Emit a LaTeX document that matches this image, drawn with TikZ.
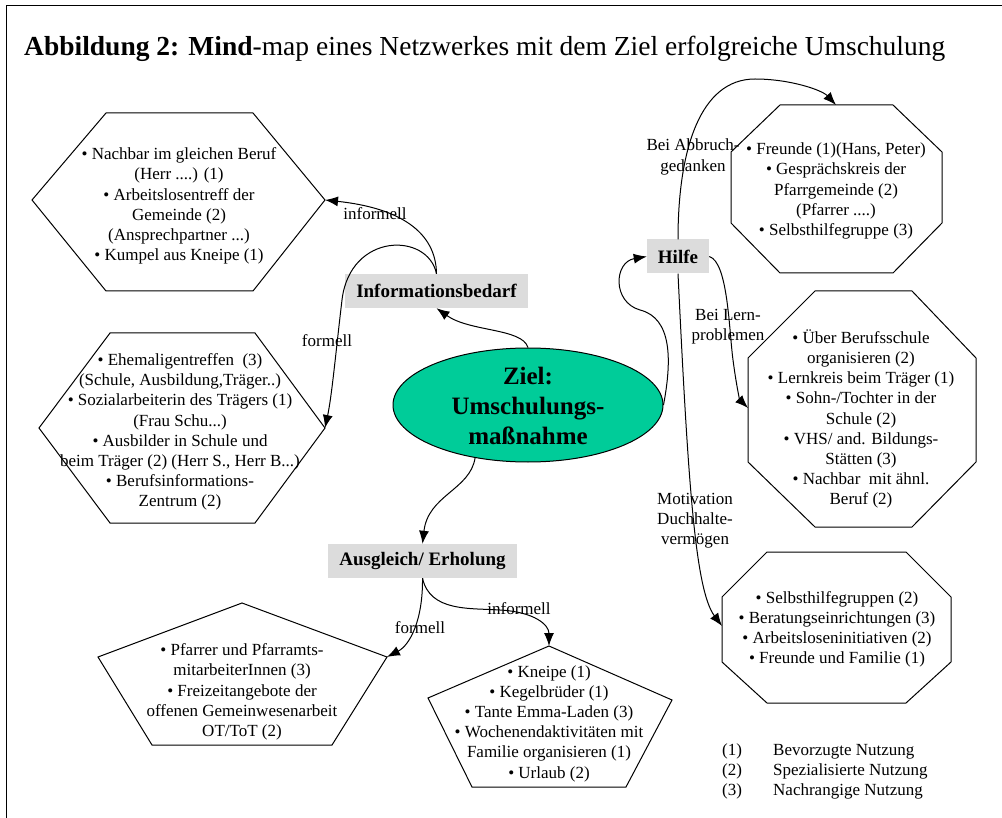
\documentclass[tikz,border=0pt]{standalone}
\usepackage{fontspec}
\setmainfont{Liberation Serif}
\usetikzlibrary{arrows.meta,shapes.geometric}
\definecolor{boxgray}{RGB}{220,220,220}
\definecolor{zielgreen}{RGB}{0,204,153}
\tikzset{
 body/.style={align=center,inner sep=0pt,font=\fontsize{17}{20.2}\selectfont},
 poly/.style={draw=black,line width=1pt,line join=miter},
 topic/.style={fill=boxgray,inner xsep=11pt,inner ysep=0pt,minimum height=34pt,font=\bfseries\fontsize{19}{22}\selectfont},
 conn/.style={line width=1pt,-{Latex[length=13pt,width=10pt]}},
 lbl/.style={inner sep=0pt,font=\fontsize{17}{20.2}\selectfont,align=center},
}
\begin{document}
\begin{tikzpicture}[x=1pt,y=-1pt]
\useasboundingbox (0,0) rectangle (1002,818);
\draw[line width=1pt] (6,818) -- (6,6) -- (1002,6);
\node[anchor=base west,inner sep=0pt,font=\fontsize{27.5}{30}\selectfont] (title) at (24,56) {\textbf{Abbildung 2: Mind}-map eines Netzwerkes mit dem Ziel erfolgreiche Umschulung};

% shapes
\draw[poly] (32,200) -- (106,113) -- (253,113) -- (325,200) -- (253,291) -- (106,291) -- cycle;
\draw[poly] (39,428) -- (110,333) -- (255,333) -- (325,428) -- (255,523) -- (110,523) -- cycle;
\draw[poly] (780,105) -- (893,105) -- (942,152) -- (942,223) -- (893,273) -- (780,273) -- (731,223) -- (731,152) -- cycle;
\draw[poly] (815,291) -- (912,291) -- (976,358) -- (976,462) -- (912,527) -- (815,527) -- (748,462) -- (748,358) -- cycle;
\draw[poly] (767,552) -- (906,552) -- (951,597) -- (951,662) -- (906,703) -- (767,703) -- (722,662) -- (722,597) -- cycle;
\draw[poly] (242,603) -- (387,657) -- (332,745) -- (152,745) -- (98,657) -- cycle;
\draw[poly] (549,646) -- (672,700) -- (626,787) -- (472,787) -- (428,698) -- cycle;

\coordinate (h1r) at (325,200);
\coordinate (h2r) at (325,428);
\coordinate (o1t) at (836,105);
\coordinate (o2l) at (748,408);
\coordinate (o3l) at (722,626);
\coordinate (p1r) at (387,657);
\coordinate (p2t) at (549,646);

% texts in shapes
\node[body] (h1text) at (179,206) {• Nachbar im gleichen Beruf\\(Herr ....) (1)\\• Arbeitslosentreff der\\Gemeinde (2)\\(Ansprechpartner ...)\\• Kumpel aus Kneipe (1)};
\node[body] (h2text) at (180,432) {• Ehemaligentreffen\ \ (3)\\(Schule, Ausbildung,Träger..)\\• Sozialarbeiterin des Trägers (1)\\(Frau Schu...)\\• Ausbilder in Schule und\\beim Träger (2) (Herr S., Herr B...)\\• Berufsinformations-\\Zentrum (2)};
\node[body] (o1text) at (836,191) {• Freunde (1)(Hans, Peter)\\• Gesprächskreis der\\Pfarrgemeinde (2)\\(Pfarrer ....)\\• Selbsthilfegruppe (3)};
\node[body] (o2text) at (861,419) {• Über Berufsschule\\organisieren (2)\\• Lernkreis beim Träger (1)\\• Sohn-/Tochter in der\\Schule (2)\\• VHS/ and. Bildungs-\\Stätten (3)\\• Nachbar\ \ mit ähnl.\\Beruf (2)};
\node[body] (o3text) at (837,629.5) {• Selbsthilfegruppen (2)\\• Beratungseinrichtungen (3)\\• Arbeitsloseninitiativen (2)\\• Freunde und Familie (1)};
\node[body] (p1text) at (242,692) {• Pfarrer und Pfarramts-\\mitarbeiterInnen (3)\\• Freizeitangebote der\\offenen Gemeinwesenarbeit\\OT/ToT (2)};
\node[body] (p2text) at (549,723.5) {• Kneipe (1)\\• Kegelbrüder (1)\\• Tante Emma-Laden (3)\\• Wochenendaktivitäten mit\\Familie organisieren (1)\\• Urlaub (2)};

% centre and topics
\node[ellipse,draw,line width=1pt,fill=zielgreen,minimum width=270pt,minimum height=114pt,inner sep=0pt] (ziel) at (528,405) {};
\node[align=center,inner sep=0pt,font=\bfseries\fontsize{25}{30}\selectfont] (zieltext) at (528,406) {Ziel:\\Umschulungs-\\maßnahme};
\node[topic] (info) at (436.5,291) {Informationsbedarf};
\node[topic] (hilfe) at (678,256.5) {Hilfe};
\node[topic] (ausg) at (422.5,561) {Ausgleich/ Erholung};

% connectors
\draw[conn] (ziel.north) .. controls (522,328) and (470,332) .. (info.south);
\draw[conn] (info.north) .. controls (436,232) and (400,208) .. (h1r);
\draw[conn] (info.north) .. controls (428,232) and (350,232) .. (342,300) .. controls (336,350) and (332,395) .. (h2r);
\draw[conn] (ziel.225) .. controls (470,490) and (428,495) .. (ausg.north);
\draw[conn] (ausg.south) .. controls (423,620) and (410,645) .. (p1r);
\draw[conn] (ausg.south) .. controls (430,612) and (470,608) .. (500,610) .. controls (535,612) and (549,625) .. (p2t);
\draw[conn] (ziel.east) .. controls (672,360) and (672,318) .. (640,310) .. controls (612,302) and (614,262) .. (hilfe.west);
\draw[conn] (hilfe.north) .. controls (678,150) and (700,79) .. (755,79) .. controls (790,79) and (822,90) .. (o1t);
\draw[conn] (hilfe.east) .. controls (728,262) and (729,330) .. (733,360) .. controls (737,390) and (740,400) .. (o2l);
\draw[conn] (hilfe.south) .. controls (688,480) and (695,590) .. (o3l);

% connector labels
\node[lbl] (lblinf1) at (375,214) {informell};
\node[lbl] (lblfor1) at (327,341) {formell};
\node[lbl] (lblfor2) at (420,628) {formell};
\node[lbl] (lblinf2) at (519,609) {informell};
\node[lbl] (lblabb) at (693,157) {Bei Abbruch-\\gedanken};
\node[lbl] (lbllern) at (728,327) {Bei Lern-\\problemen};
\node[lbl] (lblmot) at (695,521) {Motivation\\Duchhalte-\\vermögen};

% legend
\node[lbl,anchor=base west] (l1n) at (722,755) {(1)};
\node[lbl,anchor=base west] (l1t) at (773,755) {Bevorzugte Nutzung};
\node[lbl,anchor=base west] (l2n) at (722,775) {(2)};
\node[lbl,anchor=base west] (l2t) at (773,775) {Spezialisierte Nutzung};
\node[lbl,anchor=base west] (l3n) at (722,795) {(3)};
\node[lbl,anchor=base west] (l3t) at (773,795) {Nachrangige Nutzung};
\end{tikzpicture}
\end{document}
